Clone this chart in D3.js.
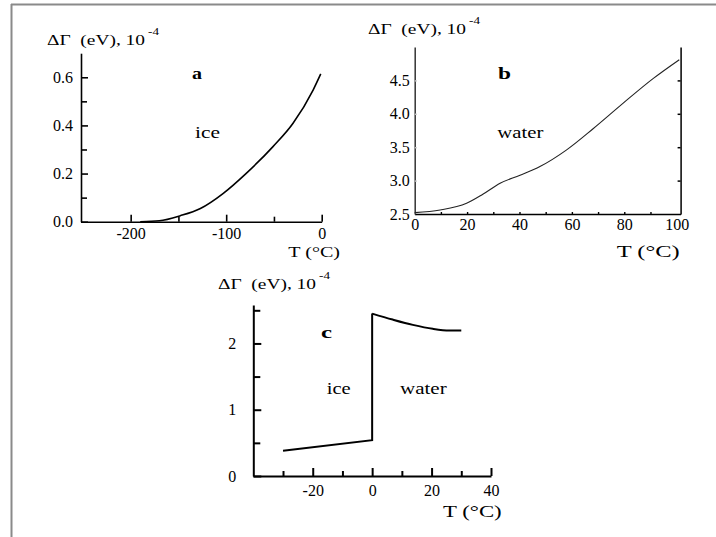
<!DOCTYPE html>
<html>
<head>
<meta charset="utf-8">
<script src="https://cdn.jsdelivr.net/npm/d3@7"></script>
<style>
  body { margin: 0; background: #fff; }
  svg { display: block; }
</style>
</head>
<body>
<svg id="chart"></svg>
<script>
// panel a - ice
const tempA = [-190, -170, -148, -127, -103, -79, -51, -30, -9, -1];
const gammaA = [0, 0.004, 0.025, 0.055, 0.118, 0.201, 0.312, 0.409, 0.547, 0.614];
const yMajorA = [0, 0.2, 0.4, 0.6];
const yMinorA = [0.1, 0.3, 0.5];
const xMajorA = [-200, -100, 0];
const xMinorA = [-150, -50];

// panel b - water
const tempB = [0, 9.7, 19.8, 26, 32.6, 40.2, 47.8, 58, 68.2, 79.6, 91.1, 101];
const gammaB = [2.52, 2.56, 2.66, 2.795, 2.96, 3.08, 3.21, 3.46, 3.78, 4.16, 4.53, 4.81];
const yMajorB = [2.5, 3.0, 3.5, 4.0, 4.5];
const xMajorB = [0, 20, 40, 60, 80, 100];
const xMinorB = [10, 20, 30, 40, 50, 60, 70, 80, 90];

// panel c - ice + water, jump at 0 °C
const iceTempC = [-30, 0, 0];
const iceGammaC = [0.38, 0.54, 2.45];
const waterTempC = [0, 6.9, 13.7, 20.4, 26, 30];
const waterGammaC = [2.45, 2.36, 2.28, 2.22, 2.195, 2.195];
const yMajorC = [0, 1, 2];
const yMinorC = [0.5, 1.5, 2.5];
const xMajorC = [-20, 0, 20, 40];
const xMinorC = [-30, -10, 10, 30];

const titleText = 'ΔΓ  (eV), 10';
const titleSup = '-4';
const xLabel = 'T (°C)';

const serif = "'Liberation Serif', serif";
const svg = d3.select('#chart').attr('width', 716).attr('height', 537);

// frame (left + top only, grey)
svg.append('line').attr('x1', 11.5).attr('x2', 11.5).attr('y1', 4).attr('y2', 537)
  .attr('stroke', '#8a8a8a').attr('stroke-width', 2);
svg.append('line').attr('x1', 11).attr('x2', 716).attr('y1', 4.5).attr('y2', 4.5)
  .attr('stroke', '#8a8a8a').attr('stroke-width', 2);

function drawAxis(gen, pos, ticks, opts) {
  let g = svg.append('g').attr('transform', pos);
  gen.tickValues(ticks)
    .tickSizeInner(-opts.size)
    .tickSizeOuter(0)
    .tickPadding(opts.pad || 0)
    .tickFormat(opts.fmt || (() => ''));
  g.call(gen);
  g.select('.domain').attr('stroke', opts.color || '#000').attr('stroke-width', opts.width);
  if (opts.noDomain) g.select('.domain').remove();
  g.selectAll('.tick line').attr('stroke', opts.tickColor || '#000').attr('stroke-width', opts.width);
  g.selectAll('.tick text')
    .style('font-family', serif)
    .style('font-size', '16px')
    .style('fill', '#000');
  return g;
}

function label(x, y, txt, size, len, weight) {
  let t = svg.append('text')
    .attr('x', x).attr('y', y)
    .style('font-family', serif)
    .style('font-size', size + 'px')
    .style('font-weight', weight || 'normal')
    .attr('xml:space', 'preserve')
    .text(txt);
  if (len) t.attr('textLength', len).attr('lengthAdjust', 'spacingAndGlyphs');
  return t;
}

function title(x, y) {
  label(x, y, titleText, 15, 98);
  label(x + 101, y - 10, titleSup, 11, 11);
}

const fmt1 = d => d.toFixed(1);
const fmt0 = d => String(d);

// ---------------- panel a ----------------
let xA = d3.scaleLinear().domain([-252, 0]).range([81, 321.7]);
let yA = d3.scaleLinear().domain([0, 0.7]).range([221.7, 53.2]);

drawAxis(d3.axisLeft(yA), 'translate(81,0)', yMajorA, {size: 7, pad: 8, width: 1.6, fmt: fmt1});
drawAxis(d3.axisLeft(yA), 'translate(81,0)', yMinorA, {size: 6, width: 1.6, noDomain: true});
drawAxis(d3.axisBottom(xA), 'translate(0,221.7)', xMajorA, {size: 7, pad: 6, width: 1.6, fmt: fmt0});
drawAxis(d3.axisBottom(xA), 'translate(0,221.7)', xMinorA, {size: 5, width: 1.6, noDomain: true});

let lineA = d3.line().x((d, i) => xA(tempA[i])).y(d => yA(d)).curve(d3.curveMonotoneX);
svg.append('path').attr('d', lineA(gammaA))
  .attr('fill', 'none').attr('stroke', '#000').attr('stroke-width', 1.6);

title(47, 45);
label(192, 79, 'a', 17, 10, 'bold');
label(195, 138.3, 'ice', 17, 25);
label(288.3, 257, xLabel, 15, 51.7);

// ---------------- panel b ----------------
let xB = d3.scaleLinear().domain([0, 101.5]).range([414.7, 680.6]);
let yB = d3.scaleLinear().domain([2.5, 5.0]).range([214, 47]);

drawAxis(d3.axisLeft(yB), 'translate(414.7,0)', yMajorB, {size: 2, pad: 5, width: 1.5, color: '#333', tickColor: '#bbb', fmt: fmt1});
drawAxis(d3.axisRight(yB), 'translate(680.6,0)', yMajorB.slice(1), {size: 3, width: 1.5});
drawAxis(d3.axisBottom(xB), 'translate(0,214)', xMajorB, {size: 0, pad: 5, width: 1.4, fmt: fmt0});
drawAxis(d3.axisBottom(xB), 'translate(0,214)', xMinorB, {size: 2, width: 1.4, noDomain: true});

let lineB = d3.line().x((d, i) => xB(tempB[i])).y(d => yB(d)).curve(d3.curveMonotoneX);
svg.append('path').attr('d', lineB(gammaB))
  .attr('fill', 'none').attr('stroke', '#222').attr('stroke-width', 1.1);

title(368, 34.3);
label(498, 79, 'b', 17, 13, 'bold');
label(497.3, 138.3, 'water', 17, 46);
label(616.7, 257, xLabel, 16, 63);

// ---------------- panel c ----------------
let xC = d3.scaleLinear().domain([-40, 40]).range([253.3, 491]);
let yC = d3.scaleLinear().domain([0, 2.58]).range([476, 305]);

drawAxis(d3.axisLeft(yC), 'translate(253.3,0)', yMajorC, {size: 8, pad: 17, width: 2, fmt: fmt0});
drawAxis(d3.axisLeft(yC), 'translate(253.3,0)', yMinorC, {size: 7, width: 2, noDomain: true});
drawAxis(d3.axisBottom(xC), 'translate(0,476)', xMajorC, {size: 8, pad: 9, width: 2, fmt: fmt0});
drawAxis(d3.axisBottom(xC), 'translate(0,476)', xMinorC, {size: 5, width: 2, noDomain: true});

let iceLine = d3.line().x((d, i) => xC(iceTempC[i])).y(d => yC(d));
svg.append('path').attr('d', iceLine(iceGammaC))
  .attr('fill', 'none').attr('stroke', '#000').attr('stroke-width', 2);
let waterLine = d3.line().x((d, i) => xC(waterTempC[i])).y(d => yC(d)).curve(d3.curveMonotoneX);
svg.append('path').attr('d', waterLine(waterGammaC))
  .attr('fill', 'none').attr('stroke', '#000').attr('stroke-width', 2);

title(218, 289.3);
label(321, 338.3, 'c', 17, 11, 'bold');
label(326.7, 394, 'ice', 17, 24);
label(400, 394, 'water', 17, 46.7);
label(443, 516.7, xLabel, 16, 58.7);
</script>
</body>
</html>
